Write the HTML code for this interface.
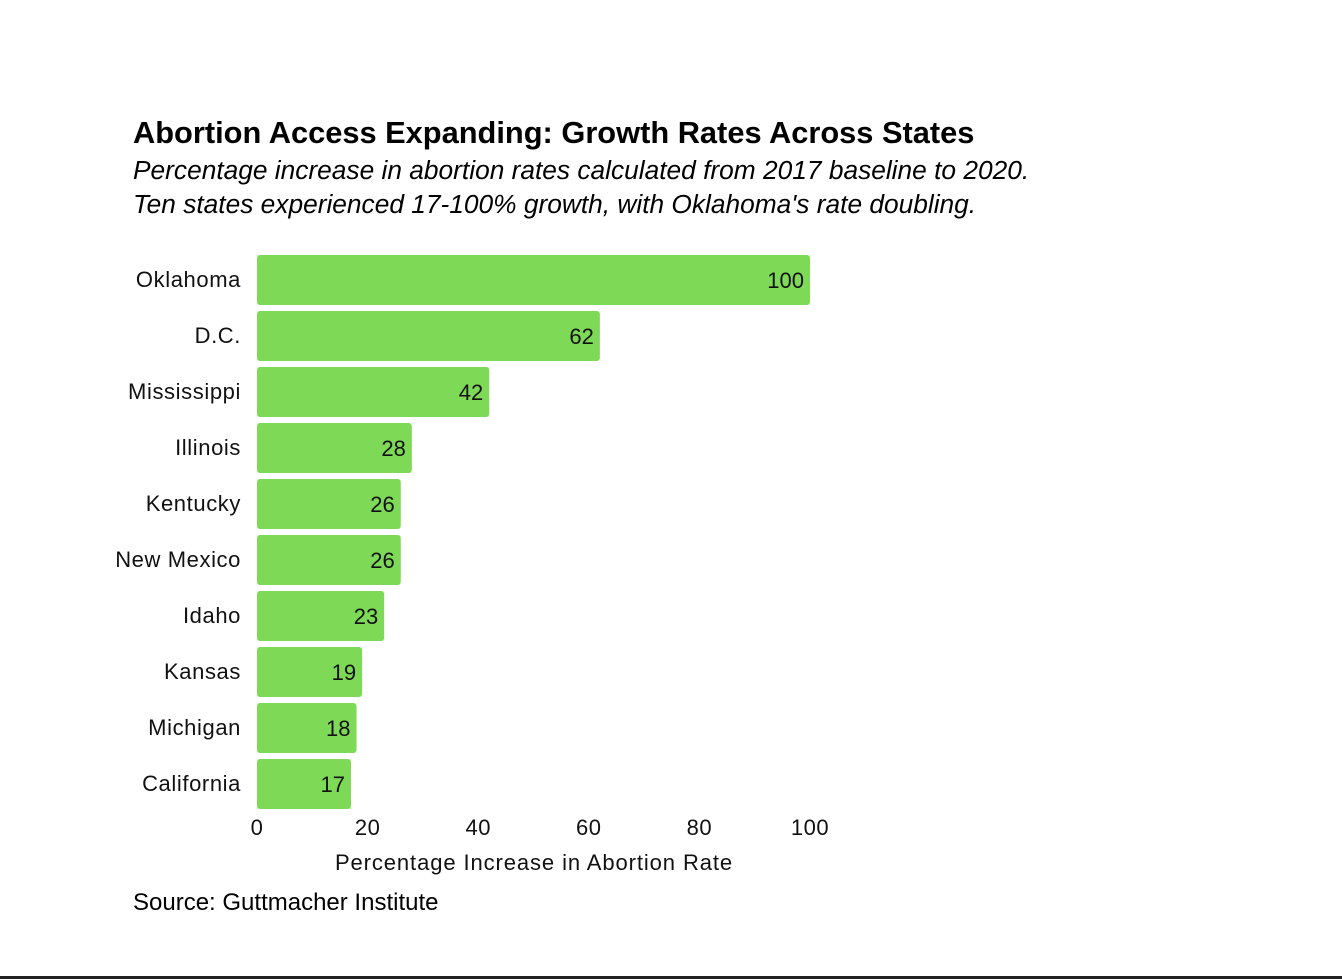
<!DOCTYPE html>
<html><head><meta charset="utf-8"><style>
body{margin:0;width:1342px;height:979px;background:#fff;overflow:hidden;position:relative;font-family:"Liberation Sans",sans-serif}
.t{position:absolute;left:133px;white-space:nowrap;color:#000}
</style></head><body>
<div class="t" style="top:115px;font-size:30.8px;font-weight:bold">Abortion Access Expanding: Growth Rates Across States</div>
<div class="t" style="top:153px;font-size:26.3px;font-style:italic;line-height:34px">Percentage increase in abortion rates calculated from 2017 baseline to 2020.<br>Ten states experienced 17-100% growth, with Oklahoma's rate doubling.</div>
<svg id="c" width="1342" height="979" style="position:absolute;left:0;top:0"></svg>
<div class="t" style="top:889px;font-size:24px">Source: Guttmacher Institute</div>
<div style="position:absolute;left:0;top:976px;width:1342px;height:3px;background:#222"></div>
<script>
const categories=["Oklahoma","D.C.","Mississippi","Illinois","Kentucky","New Mexico","Idaho","Kansas","Michigan","California"];
const values=[100,62,42,28,26,26,23,19,18,17];
const ticks=[0,20,40,60,80,100];
const svg=document.getElementById('c');const NS='http://www.w3.org/2000/svg';
const x=v=>257+v*5.53;const y=i=>255+i*56;
function mk(t,a,txt){const e=document.createElementNS(NS,t);for(const k in a)e.setAttribute(k,a[k]);if(txt!=null)e.textContent=txt;svg.appendChild(e);return e;}
const F='"Liberation Sans",sans-serif';
categories.forEach((c,i)=>{
const r=mk('rect',{x:x(0),y:y(i),width:x(values[i])-x(0),height:50,rx:3,fill:'#7ed957'});


const l=mk('text',{x:241,y:y(i)+32,'text-anchor':'end','font-size':22,'letter-spacing':0.6,'font-family':F,fill:'#111'},c);


const v=mk('text',{x:x(values[i])-6,y:y(i)+33,'text-anchor':'end','font-size':22,'font-family':F,fill:'#111'},values[i]);


});
ticks.forEach(t=>{
const e=mk('text',{x:x(t),y:835,'text-anchor':'middle','font-size':22,'letter-spacing':0.5,'font-family':F,fill:'#111'},t);


});
const a=mk('text',{x:534,y:870,'text-anchor':'middle','font-size':22,'letter-spacing':0.9,'font-family':F,fill:'#111'},'Percentage Increase in Abortion Rate');


</script>
</body></html>
